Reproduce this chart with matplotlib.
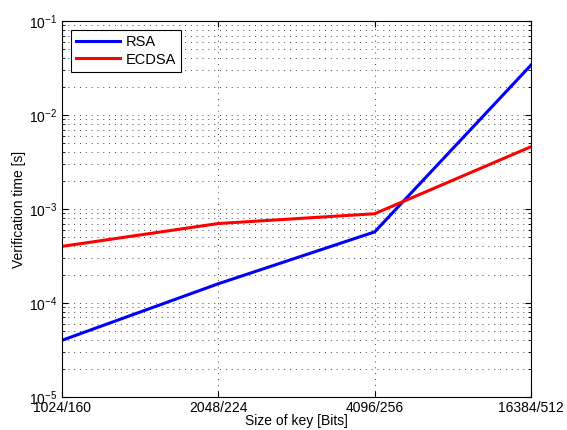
import numpy as np
import matplotlib.pyplot as plt
from matplotlib.ticker import LogLocator, NullFormatter

plt.rcParams['font.family'] = ['Liberation Sans', 'DejaVu Sans']
plt.rcParams['mathtext.fontset'] = 'custom'
plt.rcParams['mathtext.rm'] = 'Liberation Sans'
plt.rcParams['mathtext.it'] = 'Liberation Sans:italic'

key_sizes = ['1024/160', '2048/224', '4096/256', '16384/512']
rsa_time = [4.0e-5, 1.6e-4, 5.7e-4, 3.4e-2]
ecdsa_time = [4.0e-4, 7.0e-4, 8.9e-4, 4.6e-3]

x = np.arange(1, len(key_sizes) + 1)

fig = plt.figure(figsize=(5.67, 4.30), dpi=100)
ax = fig.add_axes([0.1093, 0.077, 0.8272, 0.874])

ax.semilogy(x, rsa_time, color='#0000ff', lw=2.2, label='RSA')
ax.semilogy(x, ecdsa_time, color='#ff0000', lw=2.2, label='ECDSA')

ax.set_xlim(1, 4)
ax.set_ylim(1e-5, 1e-1)
ax.set_xticks(x)
ax.set_xticklabels(key_sizes)
ax.yaxis.set_major_locator(LogLocator(base=10, numticks=10))
ax.yaxis.set_minor_locator(LogLocator(base=10, subs=np.arange(2, 10), numticks=10))
ax.yaxis.set_minor_formatter(NullFormatter())

# MATLAB-like dotted grid
ax.grid(True, which='major', linestyle=(0, (1, 5)), color='#444444', lw=0.7)
ax.grid(True, which='minor', axis='y', linestyle=(0, (1, 5)), color='#444444', lw=0.7)

ax.tick_params(which='both', direction='in', top=True, right=True, labelsize=10)
ax.tick_params(which='major', length=4)
ax.tick_params(which='minor', length=2)
ax.tick_params(axis='x', pad=3)
for s in ax.spines.values():
    s.set_linewidth(0.8)

ax.set_xlabel('Size of key [Bits]', fontsize=10, labelpad=-1)
ax.set_ylabel('Verification time [s]', fontsize=10, labelpad=2)

leg = ax.legend(loc='upper left', fancybox=False, edgecolor='black', framealpha=1,
                fontsize=10.5, handlelength=3.0, handletextpad=0.4,
                borderaxespad=0.6, labelspacing=0.25, borderpad=0.35)
leg.get_frame().set_linewidth(0.8)

fig.savefig('out.png', dpi=100)
